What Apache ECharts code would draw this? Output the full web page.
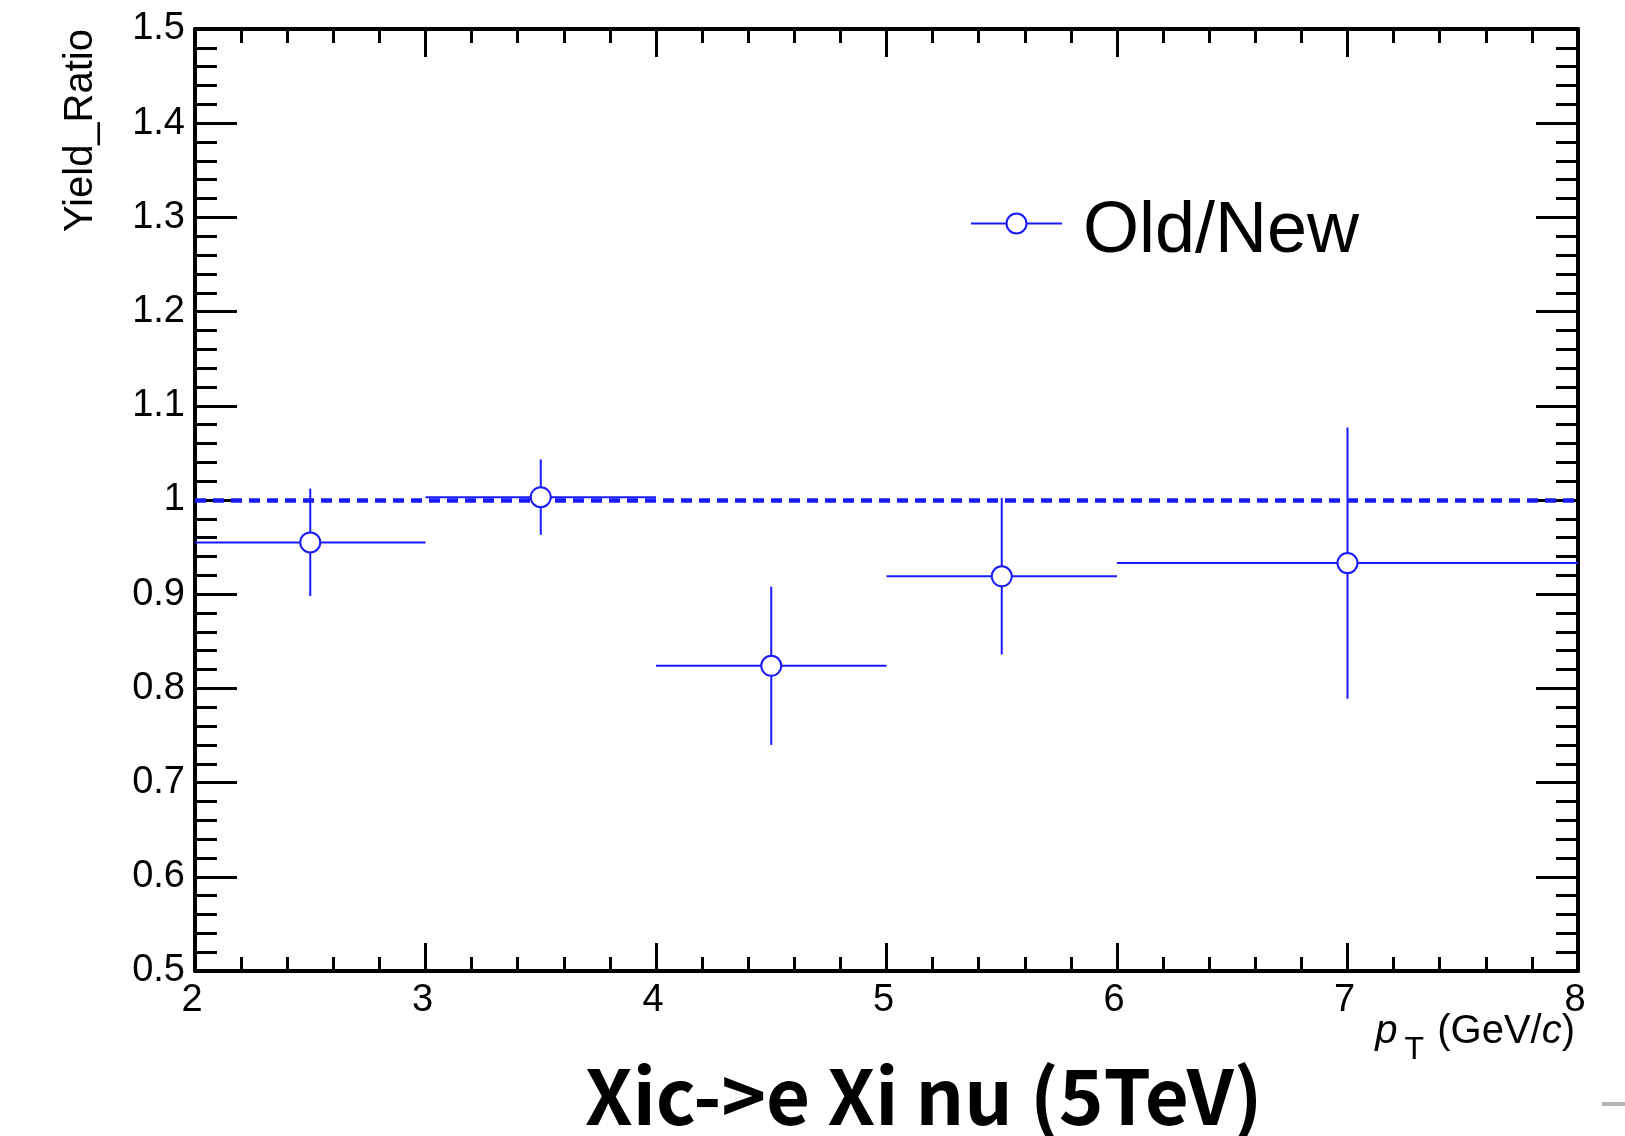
<!DOCTYPE html>
<html>
<head>
<meta charset="utf-8">
<title>Xic->e Xi nu (5TeV)</title>
<script src="https://cdn.jsdelivr.net/npm/echarts@6/dist/echarts.min.js"></script>
<style>
  html, body { margin: 0; padding: 0; background: #ffffff; }
  #chart { width: 1625px; height: 1136px; }
</style>
</head>
<body>
<div id="chart"></div>
<script>
// pT bins (GeV/c) and the Old/New yield ratio per bin
const binLow = [2, 3, 4, 5, 6];
const binHigh = [3, 4, 5, 6, 8];
const binCenter = [2.5, 3.5, 4.5, 5.5, 7];
const ratio = [0.955, 1.003, 0.824, 0.919, 0.933];
const ratioErr = [0.057, 0.040, 0.084, 0.083, 0.144];
const referenceLevel = 1;

// axis tick labels
const xTicks = ['2', '3', '4', '5', '6', '7', '8'];
const yTicks = ['0.5', '0.6', '0.7', '0.8', '0.9', '1', '1.1', '1.2', '1.3', '1.4', '1.5'];

const BLUE = '#1a1aff';
const ROOT_FONT = '"Liberation Sans", Arial, Helvetica, sans-serif';

const chart = echarts.init(document.getElementById('chart'), null, { renderer: 'canvas' });

function frameAxis(extra, majorLen, minorLen) {
  return Object.assign({
    type: 'value',
    axisLine: { show: true, onZero: false, lineStyle: { color: '#000', width: 4 } },
    axisTick: { show: true, inside: true, length: majorLen, lineStyle: { color: '#000', width: 3 } },
    minorTick: { show: true, splitNumber: 5, length: minorLen, lineStyle: { color: '#000', width: 3 } },
    splitLine: { show: false },
    minorSplitLine: { show: false }
  }, extra);
}

const xCommon = { min: 2, max: 8, interval: 1 };
const yCommon = { min: 0.5, max: 1.5, interval: 0.1 };

const option = {
  animation: false,
  backgroundColor: '#ffffff',
  grid: { left: 195, right: 47, top: 29, bottom: 165, containLabel: false, outerBoundsMode: 'none' },
  title: {
    text: 'Xic->e Xi nu (5TeV)',
    left: 585,
    top: 1058,
    padding: 0,
    textStyle: {
      fontFamily: '"Noto Sans CJK JP", "Noto Sans CJK SC", sans-serif',
      fontWeight: 'bold',
      fontSize: 76,
      color: '#000'
    }
  },
  legend: {
    data: ['Old/New'],
    left: 970,
    top: 179,
    padding: 0,
    itemWidth: 91,
    itemHeight: 25,
    selectedMode: false,
    lineStyle: { color: BLUE, width: 2, opacity: 1 },
    formatter: '{a|{name}}',
    textStyle: {
      fontFamily: ROOT_FONT, fontSize: 72, color: '#000',
      rich: { a: { fontFamily: ROOT_FONT, fontSize: 72, color: '#000', lineHeight: 72, padding: [17, 0, 0, 16] } }
    }
  },
  xAxis: [
    frameAxis(Object.assign({
      position: 'bottom',
      axisLabel: {
        show: true, margin: 11, color: '#000', fontFamily: ROOT_FONT, fontSize: 38,
        padding: [0, 6, 0, 0],
        formatter: v => xTicks[Math.round(v - 2)]
      },
      name: '{p|p}{sub|T}{t| (GeV/}{c|c}{t|)}',
      nameLocation: 'end',
      nameGap: -3,
      nameMoveOverlap: false,
      nameTextStyle: {
        align: 'right',
        verticalAlign: 'top',
        padding: [41, 0, 0, 0],
        rich: {
          p: { fontFamily: ROOT_FONT, fontStyle: 'italic', fontSize: 40, color: '#000', lineHeight: 40 },
          sub: { fontFamily: ROOT_FONT, fontSize: 32, color: '#000', lineHeight: 32, padding: [36, 2, 0, 7] },
          t: { fontFamily: ROOT_FONT, fontSize: 40, color: '#000', lineHeight: 40 },
          c: { fontFamily: ROOT_FONT, fontStyle: 'italic', fontSize: 40, color: '#000', lineHeight: 40 }
        }
      }
    }, xCommon), 28, 14),
    frameAxis(Object.assign({ position: 'top', axisLabel: { show: false } }, xCommon), 28, 14)
  ],
  yAxis: [
    frameAxis(Object.assign({
      position: 'left',
      axisLabel: {
        show: true, margin: 10, color: '#000', fontFamily: ROOT_FONT, fontSize: 38,
        padding: [6, 0, 0, 0],
        formatter: v => yTicks[Math.round((v - 0.5) / 0.1)]
      }
    }, yCommon), 42, 22),
    frameAxis(Object.assign({ position: 'right', axisLabel: { show: false } }, yCommon), 42, 22)
  ],
  graphic: [
    {
      type: 'text',
      x: 81,
      y: 29,
      rotation: Math.PI / 2,
      style: {
        text: 'Yield_Ratio',
        fontFamily: ROOT_FONT,
        fontSize: 40,
        fill: '#000',
        align: 'right',
        verticalAlign: 'middle'
      }
    },
    {
      type: 'rect',
      shape: { x: 1602, y: 1102, width: 23, height: 4 },
      style: { fill: '#b4b4b4' }
    }
  ],
  series: [
    {
      // horizontal bin-width bars and vertical error bars
      type: 'custom',
      name: 'errors',
      xAxisIndex: 0,
      yAxisIndex: 0,
      silent: true,
      z: 3,
      data: binCenter.map((c, i) => [c, ratio[i], binLow[i], binHigh[i], ratio[i] - ratioErr[i], ratio[i] + ratioErr[i]]),
      encode: { x: [0, 2, 3], y: [1, 4, 5] },
      renderItem: (params, api) => {
        const c = api.coord([api.value(0), api.value(1)]);
        const lo = api.coord([api.value(2), api.value(1)]);
        const hi = api.coord([api.value(3), api.value(1)]);
        const yDown = api.coord([api.value(0), api.value(4)]);
        const yUp = api.coord([api.value(0), api.value(5)]);
        const st = { stroke: BLUE, lineWidth: 2 };
        return {
          type: 'group',
          children: [
            { type: 'line', shape: { x1: lo[0], y1: c[1], x2: hi[0], y2: c[1] }, style: st },
            { type: 'line', shape: { x1: c[0], y1: yUp[1], x2: c[0], y2: yDown[1] }, style: st }
          ]
        };
      },
      markLine: {
        silent: true,
        symbol: 'none',
        label: { show: false },
        lineStyle: { color: BLUE, width: 4.5, type: [11, 7] },
        data: [{ yAxis: referenceLevel }]
      }
    },
    {
      // open circle markers at the bin centres
      type: 'line',
      name: 'Old/New',
      xAxisIndex: 0,
      yAxisIndex: 0,
      z: 6,
      silent: true,
      data: binCenter.map((c, i) => [c, ratio[i]]),
      symbol: 'emptyCircle',
      symbolSize: 20,
      showSymbol: true,
      itemStyle: { color: BLUE, borderColor: BLUE, borderWidth: 2.5 },
      lineStyle: { width: 0, opacity: 0 }
    }
  ]
};

chart.setOption(option);
</script>
</body>
</html>
